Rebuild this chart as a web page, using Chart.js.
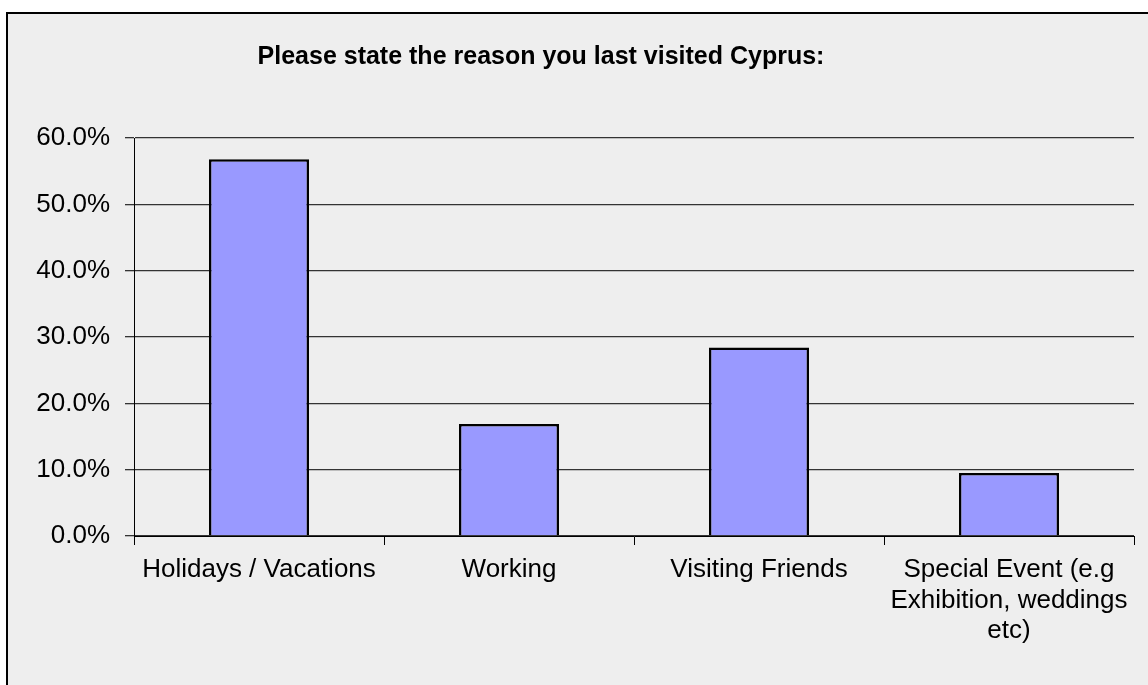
<!DOCTYPE html>
<html>
<head>
<meta charset="utf-8">
<title>Reason for last visit to Cyprus</title>
<script src="https://cdn.jsdelivr.net/npm/chart.js@4/dist/chart.umd.min.js"></script>
<style>
  html, body { margin: 0; padding: 0; background: #ffffff; }
  #wrap { width: 1148px; height: 685px; position: relative; }
</style>
</head>
<body>
<div id="wrap"><canvas id="reasonChart" width="1148" height="685"></canvas></div>
<script>
// Survey answers (share of respondents, %)
const chartTitle = 'Please state the reason you last visited Cyprus:';
const reasons = [
    'Holidays / Vacations',
    'Working',
    'Visiting Friends',
    ['Special Event (e.g', 'Exhibition, weddings', 'etc)']
];
const shares = [56.8, 16.9, 28.4, 9.5];
const yMax = 60;
const yStep = 10;

const FONT = '"Liberation Sans", Arial, sans-serif';

// Grey frame behind the chart plus the bold heading
const framePlugin = {
    id: 'frame',
    beforeDraw(chart) {
        const ctx = chart.ctx;
        ctx.save();
        ctx.fillStyle = '#ffffff';
        ctx.fillRect(0, 0, chart.width, chart.height);
        ctx.fillStyle = '#eeeeee';
        ctx.fillRect(7, 13, chart.width, chart.height);
        ctx.strokeStyle = '#000000';
        ctx.lineWidth = 2;
        ctx.beginPath();
        ctx.moveTo(7, chart.height);
        ctx.lineTo(7, 13);
        ctx.lineTo(chart.width, 13);
        ctx.stroke();

        ctx.fillStyle = '#000000';
        ctx.font = 'bold 25px ' + FONT;
        ctx.textAlign = 'center';
        ctx.textBaseline = 'middle';
        ctx.fillText(chartTitle, 541, 57);
        ctx.restore();
    }
};

function initReasonChart() {
    const ctx = document.getElementById('reasonChart').getContext('2d');
    new Chart(ctx, {
        type: 'bar',
        data: {
            labels: reasons,
            datasets: [{
                data: shares,
                backgroundColor: '#9999ff',
                borderColor: '#000000',
                borderWidth: 2.5,
                categoryPercentage: 1.0,
                barPercentage: 0.4
            }]
        },
        options: {
            responsive: false,
            animation: false,
            layout: {
                padding: { top: 138, right: 14, bottom: 0, left: 0 }
            },
            plugins: {
                legend: { display: false },
                title: { display: false },
                tooltip: { enabled: false }
            },
            scales: {
                x: {
                    offset: true,
                    afterFit(scale) { scale.height = 149; },
                    grid: {
                        offset: true,
                        drawOnChartArea: false,
                        drawTicks: true,
                        tickLength: 9,
                        color: '#000000'
                    },
                    border: { color: '#000000', width: 1 },
                    ticks: {
                        color: '#000000',
                        padding: 10,
                        maxRotation: 0,
                        autoSkip: false,
                        font: { family: FONT, size: 26, lineHeight: 1.17 }
                    }
                },
                y: {
                    min: 0,
                    max: yMax,
                    afterFit(scale) { scale.width = 134; },
                    grid: {
                        color: '#333333',
                        lineWidth: 1.3,
                        drawTicks: true,
                        tickLength: 9
                    },
                    border: { color: '#000000', width: 1 },
                    ticks: {
                        stepSize: yStep,
                        color: '#000000',
                        padding: 15,
                        font: { family: FONT, size: 26 },
                        callback: value => value.toFixed(1) + '%'
                    }
                }
            }
        },
        plugins: [framePlugin]
    });
}

document.addEventListener('DOMContentLoaded', initReasonChart);
</script>
</body>
</html>
